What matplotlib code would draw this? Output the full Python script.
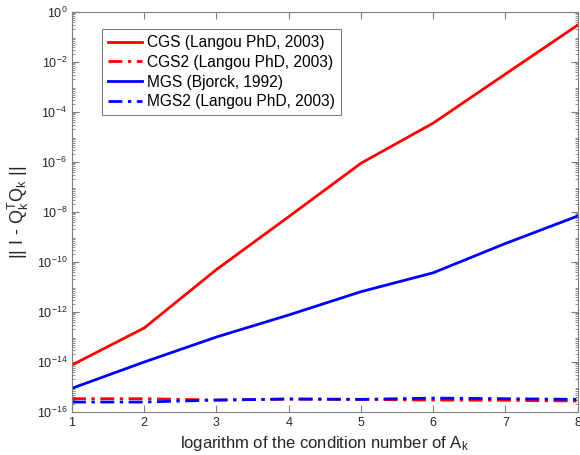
import matplotlib
matplotlib.use("Agg")
import matplotlib.pyplot as plt
from matplotlib.ticker import LogLocator, NullFormatter, FixedLocator

plt.rcParams['font.family'] = ['Liberation Sans', 'DejaVu Sans']
plt.rcParams['mathtext.fontset'] = 'custom'
plt.rcParams['mathtext.rm'] = 'Liberation Sans'
plt.rcParams['mathtext.it'] = 'Liberation Sans'

log_cond = [1, 2, 3, 4, 5, 6, 7, 8]
cgs = [7.6e-15, 2.3e-13, 5.0e-11, 6.5e-9, 8.9e-7, 3.6e-5, 3.3e-3, 3.0e-1]
cgs2 = [3.4e-16, 3.4e-16, 3.0e-16, 3.3e-16, 3.2e-16, 3.0e-16, 2.95e-16, 2.75e-16]
mgs = [8.9e-16, 1.0e-14, 1.0e-13, 7.6e-13, 6.5e-12, 3.7e-11, 5.5e-10, 6.9e-9]
mgs2 = [2.5e-16, 2.5e-16, 3.0e-16, 3.3e-16, 3.2e-16, 3.6e-16, 3.4e-16, 3.2e-16]
labels = ["CGS (Langou PhD, 2003)", "CGS2 (Langou PhD, 2003)",
          "MGS (Bjorck, 1992)", "MGS2 (Langou PhD, 2003)"]

fig = plt.figure(figsize=(5.8, 4.55), dpi=100)
ax = fig.add_axes([72/580, 43/455, 505.7/580, 400/455])

dashdot = (0, (5, 2, 1.2, 2))
ax.semilogy(log_cond, cgs, color='#ff0000', lw=2, ls='-', label=labels[0])
ax.semilogy(log_cond, cgs2, color='#ff0000', lw=2, ls=dashdot, label=labels[1])
ax.semilogy(log_cond, mgs, color='#0000ff', lw=2, ls='-', label=labels[2])
ax.semilogy(log_cond, mgs2, color='#0000ff', lw=2, ls=dashdot, label=labels[3])

ax.set_xlim(1, 8)
ax.set_ylim(1e-16, 1e0)
ax.xaxis.set_major_locator(FixedLocator(log_cond))
ax.set_yticks([10.0**e for e in range(-16, 1, 2)])
ax.yaxis.set_minor_locator(LogLocator(base=10, subs=range(2, 10), numticks=40))
ax.yaxis.set_minor_formatter(NullFormatter())

gray = '#262626'
for s in ax.spines.values():
    s.set_color('#7f7f7f')
    s.set_linewidth(0.8)
ax.tick_params(which='both', direction='in', top=True, right=True,
               colors='#7f7f7f', labelcolor=gray, labelsize=9)
ax.tick_params(which='major', length=5)
ax.tick_params(which='minor', length=2.5)

ax.set_xlabel(r"logarithm of the condition number of A$_\mathregular{k}$",
              fontsize=12, color=gray, labelpad=4)
ax.set_ylabel(r"|| I - Q$_\mathregular{k}^\mathregular{T}$Q$_\mathregular{k}$ ||",
              fontsize=13, color=gray, labelpad=4)

leg = ax.legend(loc='upper left', bbox_to_anchor=(30/505.7, 1 - 17/400),
                fontsize=11.2, handlelength=2.2, handletextpad=0.3,
                borderpad=0.4, labelspacing=0.3, fancybox=False,
                framealpha=1, borderaxespad=0)
leg.get_frame().set_edgecolor('#7f7f7f')
leg.get_frame().set_linewidth(0.8)

fig.savefig("out.png", dpi=100)
